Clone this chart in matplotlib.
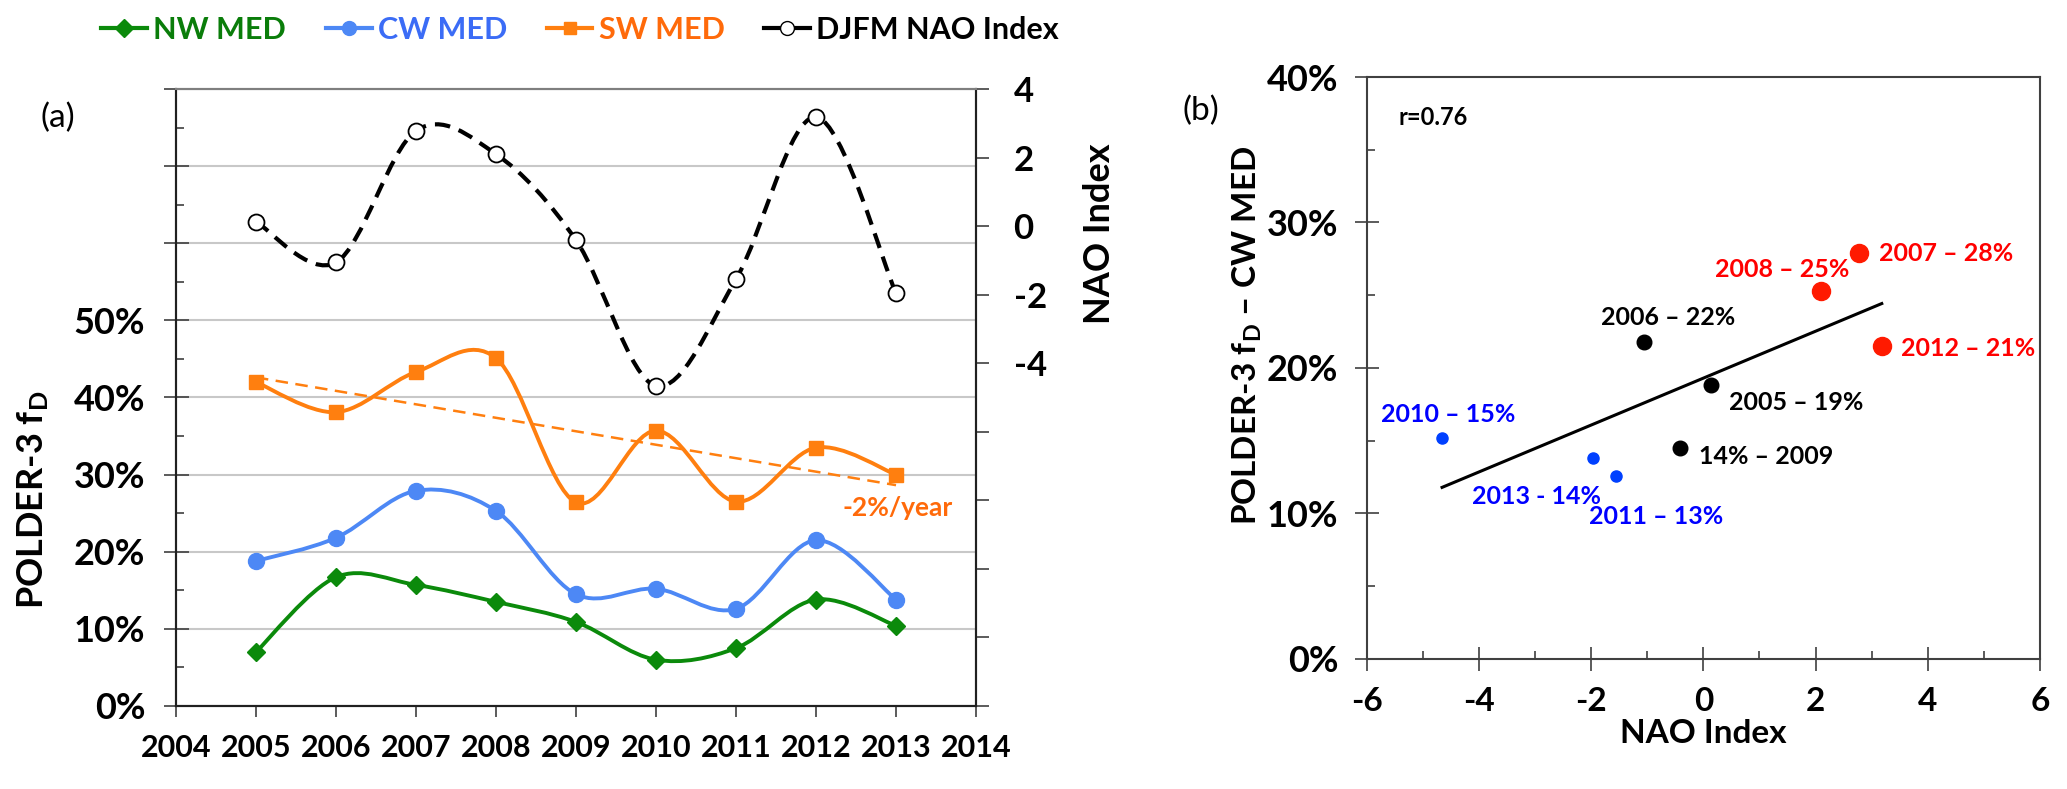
import numpy as np
import matplotlib
matplotlib.use('Agg')
import matplotlib.pyplot as plt
from matplotlib.path import Path
from matplotlib.patches import PathPatch
from matplotlib.lines import Line2D
from matplotlib.ticker import MultipleLocator, FuncFormatter

plt.rcParams['font.family'] = ['Lato', 'DejaVu Sans']
plt.rcParams['font.weight'] = 'bold'
plt.rcParams['axes.labelweight'] = 'bold'
plt.rcParams['mathtext.fontset'] = 'custom'
plt.rcParams['mathtext.rm'] = 'Lato:bold'
plt.rcParams['mathtext.it'] = 'Lato:bold'
plt.rcParams['mathtext.bf'] = 'Lato:bold'

# donnees
years  = [2005, 2006, 2007, 2008, 2009, 2010, 2011, 2012, 2013]
nw_med = [7.0, 16.7, 15.7, 13.5, 10.9, 6.0, 7.5, 13.8, 10.4]
cw_med = [18.8, 21.8, 27.9, 25.3, 14.5, 15.2, 12.6, 21.5, 13.8]
sw_med = [42.0, 38.1, 43.3, 45.1, 26.4, 35.7, 26.5, 33.5, 30.0]
nao    = [0.13, -1.06, 2.78, 2.10, -0.41, -4.66, -1.55, 3.18, -1.96]

# panneau (b) : groupes de couleur par annee
grp_color = ['black', 'black', 'red', 'red', 'black', 'blue', 'blue', 'red', 'blue']
pt_labels = ['2005 \u2013 19%', '2006 \u2013 22%', '2007 \u2013 28%', '2008 \u2013 25%',
             '14% \u2013 2009', '2010 \u2013 15%', '2011 \u2013 13%', '2012 \u2013 21%',
             '2013 - 14%']
r_text = 'r=0.76'

# styles
C_NW, C_CW, C_SW = '#0b8a0b', '#4d88f5', '#ff7f0f'
T_NW, T_CW, T_SW = '#0a7d0a', '#3b6cf6', '#ff6a0a'
pt_style = {'black': ('#000000', 10.5), 'red': ('#ff1a00', 13), 'blue': ('#0040ff', 8)}
txt_color = {'black': '#000000', 'red': '#ff0000', 'blue': '#0000ff'}
lbl_off = [(0.32, -1.15), (-0.77, 1.65), (0.35, 0.0), (-1.89, 1.45), (0.34, -0.55),
           (-1.09, 1.6), (-0.49, -2.8), (0.35, -0.15), (-2.17, -2.6)]


def smooth_path(x, y):
    # courbe lissee facon Excel (Catmull-Rom -> Bezier)
    p = np.column_stack([x, y]).astype(float)
    q = np.vstack([p[0], p, p[-1]])
    verts = [tuple(p[0])]
    codes = [Path.MOVETO]
    for i in range(1, len(q) - 2):
        c1 = q[i] + (q[i + 1] - q[i - 1]) / 6.0
        c2 = q[i + 1] - (q[i + 2] - q[i]) / 6.0
        verts += [tuple(c1), tuple(c2), tuple(q[i + 1])]
        codes += [Path.CURVE4] * 3
    return Path(verts, codes)


fig = plt.figure(figsize=(20.67, 7.89), dpi=100)

# ---------------- panneau (a)
ax = fig.add_axes([0.0851, 0.1052, 0.3871, 0.782])
ax2 = ax.twinx()

for vals, col, mk, ms in [(nw_med, C_NW, 'D', 9.5), (cw_med, C_CW, 'o', 11.5), (sw_med, C_SW, 's', 10.5)]:
    ax.add_patch(PathPatch(smooth_path(years, vals), fill=False, edgecolor=col, lw=2.8, zorder=3))
    ax.plot(years, vals, ls='none', marker=mk, ms=ms, color=col, zorder=4)

cf = np.polyfit(years, sw_med, 1)
ax.plot([years[0], years[-1]], np.polyval(cf, [years[0], years[-1]]),
        color=C_SW, lw=1.8, ls=(0, (5, 3)), zorder=3)
ax.text(2012.33, 25.7, '-2%/year', color=T_SW, fontsize=19, ha='left', va='center')

ax2.add_patch(PathPatch(smooth_path(years, nao), fill=False, edgecolor='black', lw=3,
                        ls=(0, (3.7, 2.2)), zorder=3))
ax2.plot(years, nao, ls='none', marker='o', ms=11.5, mfc='white', mec='black', mew=1.3, zorder=4)

ax.set_xlim(2004, 2014)
ax.set_xticks(range(2004, 2015))
ax.set_ylim(0, 80)
ax.yaxis.set_major_locator(MultipleLocator(10))
ax.yaxis.set_minor_locator(MultipleLocator(5))
ax.yaxis.set_major_formatter(FuncFormatter(lambda v, p: '%d%%' % v if v <= 50 else ''))
ax.grid(axis='y', which='major', color='#c8c8c8', lw=1.5)
ax.set_axisbelow(True)
ax.tick_params(axis='x', direction='out', length=8, width=1.2, color='#404040', labelsize=22, pad=12)
ax.tick_params(axis='y', which='major', direction='inout', length=18, width=1.2, color='#404040',
               labelsize=26, pad=13)
ax.tick_params(axis='y', which='minor', direction='in', length=6, width=1.2, color='#404040')

ax2.set_ylim(-14, 4)
ax2.yaxis.set_major_locator(MultipleLocator(2))
ax2.yaxis.set_major_formatter(FuncFormatter(lambda v, p: '%d' % v if v >= -4 else ''))
ax2.tick_params(axis='y', direction='out', length=9, width=1.2, color='#404040', labelsize=25, pad=18)

for a in (ax, ax2):
    a.spines['top'].set_color('#7f7f7f')
    a.spines['left'].set_color('#202020')
    a.spines['right'].set_color('#202020')
    a.spines['bottom'].set_color('#202020')
    for s in a.spines.values():
        s.set_linewidth(1.5)

fig.text(0.016, 0.366, r'POLDER-3 f$_{\mathrm{D}}$', rotation=90, ha='center', va='center', fontsize=26)
fig.text(0.5317, 0.7034, 'NAO Index', rotation=90, ha='center', va='center', fontsize=26)
fig.text(0.0281, 0.850, '(a)', fontsize=24, fontweight='normal', ha='center', va='center')

# legende
handles = [Line2D([], [], color=C_NW, lw=3, marker='D', ms=9),
           Line2D([], [], color=C_CW, lw=3, marker='o', ms=10),
           Line2D([], [], color=C_SW, lw=3, marker='s', ms=9),
           Line2D([], [], color='black', lw=3, marker='o', ms=10, mfc='white', mec='black')]
leg = fig.legend(handles, ['NW MED', 'CW MED', 'SW MED', 'DJFM NAO Index'], ncol=4,
                 loc='center left', bbox_to_anchor=(0.049, 0.962), frameon=False,
                 fontsize=22, handlelength=1.5, handletextpad=0.2, columnspacing=1.3,
                 borderpad=0, borderaxespad=0)
for t, c in zip(leg.get_texts(), [T_NW, T_CW, T_SW, 'black']):
    t.set_color(c)
    t.set_fontweight('bold')

# ---------------- panneau (b)
bx = fig.add_axes([0.6613, 0.1648, 0.3256, 0.7376])
for x, y, g, lab, off in zip(nao, cw_med, grp_color, pt_labels, lbl_off):
    col, ms = pt_style[g]
    bx.plot(x, y, ls='none', marker='o', ms=ms, color=col, zorder=4)
    bx.text(x + off[0], y + off[1], lab, color=txt_color[g], fontsize=18, ha='left', va='center')

fit = np.polyfit(nao, cw_med, 1)
xx = np.array([min(nao), max(nao)])
bx.plot(xx, np.polyval(fit, xx), color='black', lw=2.2, zorder=3)

bx.set_xlim(-6, 6)
bx.set_ylim(0, 40)
bx.xaxis.set_major_locator(MultipleLocator(2))
bx.xaxis.set_minor_locator(MultipleLocator(1))
bx.yaxis.set_major_locator(MultipleLocator(10))
bx.yaxis.set_minor_locator(MultipleLocator(5))
bx.yaxis.set_major_formatter(FuncFormatter(lambda v, p: '%d%%' % v))
bx.xaxis.set_major_formatter(FuncFormatter(lambda v, p: '%d' % v))
bx.tick_params(which='major', direction='inout', length=17, width=1.2, color='#404040', labelsize=24)
bx.tick_params(axis='y', which='major', pad=12, labelsize=26)
bx.tick_params(axis='x', which='major', pad=12)
bx.tick_params(which='minor', direction='in', length=6, width=1.2, color='#404040')
for s in bx.spines.values():
    s.set_color('#404040')
    s.set_linewidth(1.5)
bx.set_xlabel('NAO Index', fontsize=24, fontweight='bold', labelpad=2)
fig.text(0.6033, 0.5754, 'POLDER-3 f$_{\\mathrm{D}}$ \u2013 CW MED',
         rotation=90, ha='center', va='center', fontsize=24)
fig.text(0.581, 0.859, '(b)', fontsize=24, fontweight='normal', ha='center', va='center')
fig.text(0.6764, 0.8517, r_text, fontsize=17, ha='left', va='center')

for a in (ax, ax2, bx):
    for lbl in a.get_xticklabels() + a.get_yticklabels():
        lbl.set_fontweight('bold')

fig.savefig('out.png', dpi=100)
